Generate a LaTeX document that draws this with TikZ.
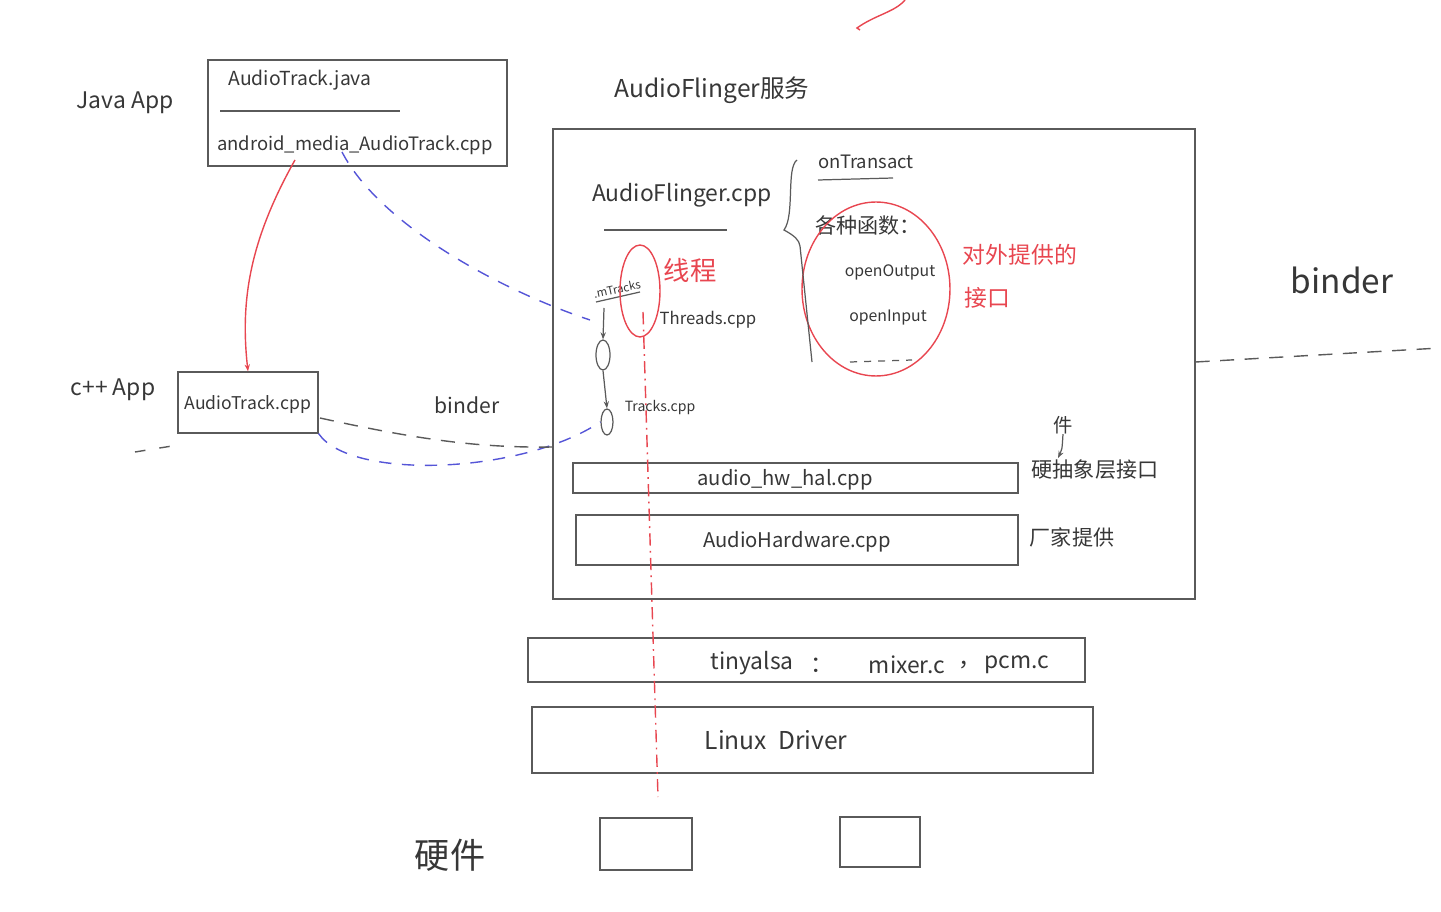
\documentclass[tikz,border=0pt]{standalone}
\usepackage{fontspec}
\setmainfont{Noto Sans CJK SC}
\usetikzlibrary{shapes.geometric,arrows.meta}
\definecolor{ink}{RGB}{55,55,55}
\definecolor{pen}{RGB}{90,90,90}
\definecolor{redpen}{RGB}{232,70,80}
\definecolor{bluepen}{RGB}{85,85,215}
\newcommand{\fsz}[1]{\fontsize{#1}{#1}\selectfont}
\tikzset{
  txt/.style={inner sep=0pt, text=ink},
  rtxt/.style={inner sep=0pt, text=redpen},
  box/.style={draw=pen, line width=0.7pt, rectangle, inner sep=0pt},
  redline/.style={draw=redpen, line width=0.8pt},
  blueline/.style={draw=bluepen, line width=0.8pt, dash pattern=on 7pt off 6pt},
  blackdash/.style={draw=pen, line width=0.8pt, dash pattern=on 8pt off 6pt},
  ln/.style={draw=pen, line width=0.7pt},
  arr/.style={-{Stealth[length=4pt,width=3pt]}},
}
\begin{document}
\begin{tikzpicture}[x=0.02cm,y=-0.02cm]
\useasboundingbox (0,0) rectangle (1441,912);

% ---------------- boxes ----------------
\node[box, minimum width=5.98cm, minimum height=2.12cm] (javabox) at (357.5,113) {};
\node[box, minimum width=2.8cm, minimum height=1.22cm] (atbox) at (248,402.5) {};
\node[box, minimum width=12.84cm, minimum height=9.4cm] (afbox) at (874,364) {};
\node[box, minimum width=8.9cm, minimum height=0.6cm] (halbox) at (795.5,478) {};
\node[box, minimum width=8.84cm, minimum height=1.0cm] (hwbox) at (797,540) {};
\node[box, minimum width=11.14cm, minimum height=0.88cm] (alsabox) at (806.5,660) {};
\node[box, minimum width=11.22cm, minimum height=1.32cm] (drvbox) at (812.5,740) {};
\node[box, minimum width=1.84cm, minimum height=1.04cm] (hw1) at (646,844) {};
\node[box, minimum width=1.6cm, minimum height=1.0cm] (hw2) at (880,842) {};

% ---------------- texts ----------------
\node[txt] (javaapp) at (125,103) {\fsz{13}Java App};
\node[txt] (atjava) at (300,80) {\fsz{11}AudioTrack.java};
\draw[ln] (220,111) -- (400,111);
\node[txt] (jni) at (355,145) {\fsz{10.5}android\_media\_AudioTrack.cpp};
\node[txt] (cppapp) at (113,390) {\fsz{13}c++ App};
\node[txt] (atcpp) at (248,405) {\fsz{10}AudioTrack.cpp};
\node[txt] (binder1) at (467,405) {\fsz{12}binder};
\node[txt] (afservice) at (712,90) {\fsz{14}AudioFlinger服务};
\node[txt] (afcpp) at (682,195) {\fsz{13}AudioFlinger.cpp};
\draw[ln] (604,230) -- (727,230);
\node[txt] (ontrans) at (866,162) {\fsz{10.5}onTransact};
\draw[ln] (818,180) -- (893,178);
\node[txt] (funcs) at (868,225) {\fsz{12}各种函数：};
\node[txt] (openout) at (890,272) {\fsz{9}openOutput};
\node[txt] (openin) at (888,318) {\fsz{9}openInput};
\draw[ln, dash pattern=on 4pt off 4pt] (850,362) -- (912,360);
\node[rtxt] (iface1) at (1020,255) {\fsz{13}对外提供的};
\node[rtxt] (iface2) at (987,298) {\fsz{13}接口};
\node[rtxt] (thread) at (690,270) {\fsz{15}线程};
\node[txt, rotate=12] (mtracks) at (617,289) {\fsz{6.5}.mTracks};
\draw[ln] (596,302) -- (640,292);
\node[txt] (threads) at (708,320) {\fsz{9.5}Threads.cpp};
\node[txt] (tracks) at (660,408) {\fsz{8}Tracks.cpp};
\node[txt] (hal) at (785,480) {\fsz{11.5}audio\_hw\_hal.cpp};
\node[txt] (ahw) at (797,542) {\fsz{11.5}AudioHardware.cpp};
\node[txt] (jian) at (1063,425) {\fsz{11}件};
\node[txt] (halif) at (1095,470) {\fsz{12}硬抽象层接口};
\node[txt] (vendor) at (1072,537) {\fsz{12}厂家提供};
\node[txt] (binder2) at (1342,280) {\fsz{19}binder};
\node[txt] (tiny) at (752,663) {\fsz{13}tinyalsa};
\node[txt] (colon) at (822,665) {\fsz{13}：};
\node[txt] (mixer) at (907,665) {\fsz{13}mixer.c};
\node[txt] (comma) at (970,665) {\fsz{13}，};
\node[txt] (pcm) at (1017,665) {\fsz{13}pcm.c};
\node[txt] (linux) at (776,740) {\fsz{14}Linux\ \ Driver};
\node[txt] (hardware) at (450,855) {\fsz{20}硬件};

% ---------------- small ellipses ----------------
\node[draw=pen, line width=0.7pt, ellipse, minimum width=0.28cm, minimum height=0.6cm, inner sep=0pt] (o1) at (603,355) {};
\node[draw=pen, line width=0.7pt, ellipse, minimum width=0.24cm, minimum height=0.52cm, inner sep=0pt] (o2) at (607,422) {};
\coordinate (mtbase) at (604,308);
\draw[ln, arr] (mtbase) -- (o1.north);
\draw[ln, arr] (o1.south) -- (o2.north);

% ---------------- red items ----------------
\node[redline, ellipse, minimum width=2.96cm, minimum height=3.48cm, inner sep=0pt] (funcell) at (876,289) {};
\node[redline, ellipse, minimum width=0.8cm, minimum height=1.84cm, inner sep=0pt] (threll) at (640,291) {};
\coordinate (dd1) at (643,312);
\coordinate (dd2) at (658,797);
\draw[redline, dash pattern=on 7pt off 3pt on 1pt off 3pt] (dd1) -- (dd2);
\coordinate (redstart) at (295,160);
\draw[redline, arr] (redstart) .. controls (250,240) and (240,300) .. (atbox.north);
\coordinate (topA) at (860,30);
\coordinate (topB) at (905,0);
\draw[redline] (topA) -- (857,28) .. controls (875,15) and (895,12) .. (topB);

% ---------------- brace ----------------
\coordinate (brA) at (797,160);
\coordinate (brB) at (784,230);
\coordinate (brC) at (812,362);
\draw[ln] (brA) .. controls (786,168) and (795,215) .. (brB)
  .. controls (795,236) and (799,240) .. (800,246) -- (brC);

% ---------------- 件 insertion arrow ----------------
\coordinate (jianTip) at (1058,458);
\draw[ln, arr] (jian.south) .. controls (1062,450) .. (jianTip);

% ---------------- connectors ----------------
\coordinate (bluestart) at (342,152);
\coordinate (blueend) at (590,320);
\draw[blueline] (bluestart) .. controls (380,225) and (500,290) .. (blueend);
\draw[blueline] (atbox.south east) .. controls (350,480) and (520,475) .. (o2.west);
\coordinate (bdL) at (320,418);
\coordinate (bdR) at (553,447);
\draw[blackdash] (bdL) .. controls (420,440) and (480,448) .. (bdR);
\coordinate (lfA) at (135,452);
\coordinate (lfB) at (172,446);
\draw[blackdash, dash pattern=on 6pt off 8pt] (lfA) -- (lfB);
\coordinate (rbR) at (1440,348);
\draw[blackdash] (afbox.east |- 0,362) -- (rbR);

\end{tikzpicture}
\end{document}
